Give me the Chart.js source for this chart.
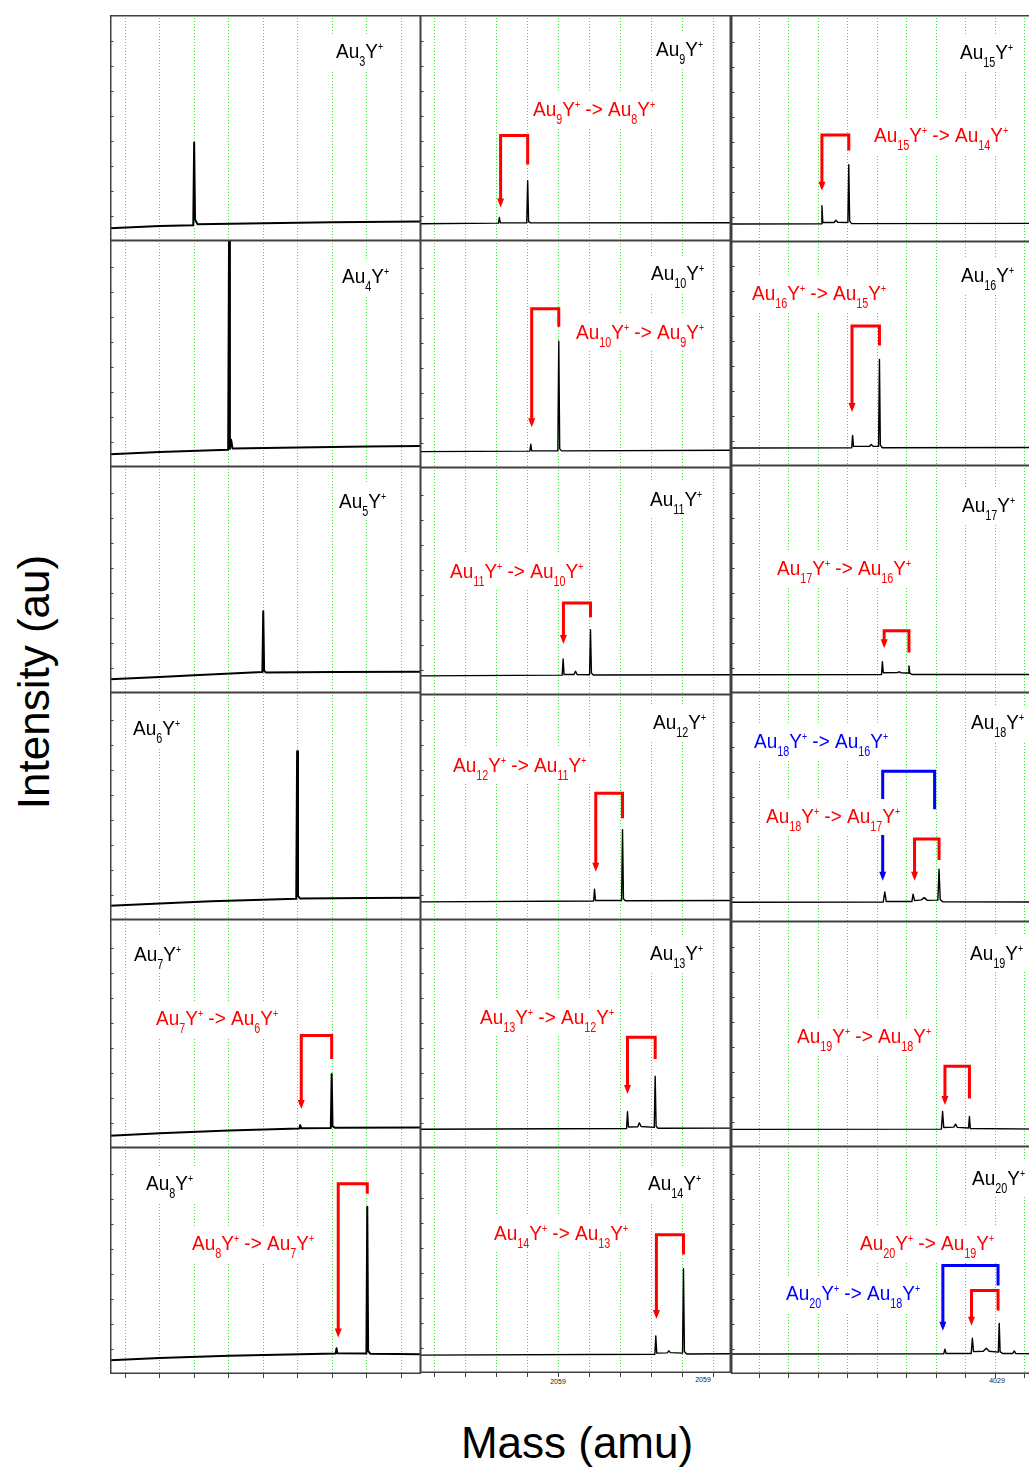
<!DOCTYPE html>
<html><head><meta charset="utf-8">
<script src="https://cdn.jsdelivr.net/npm/chart.js@4.4.0/dist/chart.umd.min.js"></script>
<style>
html,body{margin:0;padding:0;background:#fff;}
body{width:1029px;height:1468px;overflow:hidden;position:relative;font-family:"Liberation Sans",Arial,Helvetica,sans-serif;}
canvas{position:absolute;}
.axt{position:absolute;font-size:44px;line-height:44px;white-space:nowrap;color:#000;}
.tl{position:absolute;font-size:7px;line-height:8px;color:#222;transform:translateX(-50%);-webkit-font-smoothing:antialiased;}
</style></head><body>
<div class="axt" style="left:34px;top:682px;transform:translate(-50%,-50%) rotate(-90deg);">Intensity (au)</div>
<div class="axt" style="left:577px;top:1421px;transform:translateX(-50%);">Mass (amu)</div>
<div class="tl" style="left:558px;top:1378px;">2059</div>
<div class="tl" style="left:703px;top:1376px;">2059</div>
<div class="tl" style="left:997px;top:1377px;">4029</div>
<script>
// ---- panel order (column by column) ----
const panelIons = ['Au3','Au4','Au5','Au6','Au7','Au8','Au9','Au10','Au11','Au12','Au13','Au14','Au15','Au16','Au17','Au18','Au19','Au20'];

// ---- spectra: mass (grid divisions) and intensity (% of panel height) ----
const massAu3 = [-0.44, 1.0, 1.975, 2.0, 2.025, 2.1, 4.0, 6.0, 8.57];
const intAu3  = [5.6, 6.6, 7.0, 43.6, 9.5, 7.4, 7.9, 8.3, 8.6];
const massAu4 = [-0.44, 1.0, 2.985, 3.01, 3.035, 3.07, 3.11, 5.0, 7.0, 8.57];
const intAu4  = [5.6, 6.6, 7.6, 102, 8.0, 12.0, 8.2, 8.6, 9.0, 9.2];
const massAu5 = [-0.44, 1.0, 2.0, 3.975, 4.0, 4.025, 4.08, 6.0, 8.57];
const intAu5  = [6.1, 7.0, 7.8, 9.2, 36.0, 9.8, 9.0, 9.3, 9.4];
const massAu6 = [-0.44, 1.0, 2.5, 4.955, 4.98, 5.005, 5.07, 7.0, 8.57];
const intAu6  = [6.2, 7.2, 8.2, 9.3, 74.0, 10.5, 9.4, 9.6, 9.8];
const massAu7 = [-0.44, 1.0, 3.0, 5.045, 5.07, 5.095, 5.955, 5.98, 6.005, 6.08, 8.57];
const intAu7  = [5.3, 6.4, 7.6, 8.5, 10.0, 8.6, 8.7, 32.3, 9.5, 8.8, 8.9];
const massAu8 = [-0.44, 1.0, 3.0, 6.095, 6.12, 6.145, 6.985, 7.01, 7.035, 7.10, 8.57];
const intAu8  = [6.0, 7.0, 8.0, 9.0, 11.3, 9.1, 9.0, 73.7, 10.2, 8.9, 8.7];
const massAu9 = [-0.46, 2.07, 2.10, 2.13, 2.98, 3.01, 3.04, 3.10, 9.55];
const intAu9  = [7.6, 7.9, 10.4, 8.0, 8.0, 26.7, 8.6, 8.0, 8.1];
const massAu10 = [-0.46, 3.08, 3.11, 3.14, 3.98, 4.01, 4.04, 4.10, 9.55];
const intAu10  = [7.2, 7.4, 10.4, 7.5, 7.5, 55.6, 8.4, 7.5, 7.8];
const massAu11 = [-0.46, 4.12, 4.15, 4.18, 4.50, 4.55, 4.60, 5.00, 5.03, 5.06, 5.12, 9.55];
const intAu11  = [8.4, 8.7, 15.8, 9.0, 9.0, 10.4, 9.0, 8.9, 28.6, 9.6, 8.8, 8.9];
const massAu12 = [-0.46, 5.13, 5.16, 5.19, 6.03, 6.06, 6.09, 6.15, 9.55];
const intAu12  = [8.0, 8.4, 13.6, 8.6, 8.6, 40.0, 9.4, 8.5, 8.6];
const massAu13 = [-0.46, 6.19, 6.22, 6.25, 6.55, 6.60, 6.66, 7.08, 7.11, 7.14, 7.20, 9.55];
const intAu13  = [8.2, 8.5, 15.8, 9.2, 9.3, 11.0, 9.4, 9.0, 31.3, 9.5, 8.6, 8.7];
const massAu14 = [-0.46, 7.10, 7.13, 7.16, 7.50, 7.55, 7.60, 7.99, 8.02, 8.05, 8.12, 9.55];
const intAu14  = [7.9, 8.3, 16.4, 8.8, 8.9, 9.8, 9.0, 8.8, 46.1, 9.5, 8.4, 8.5];
const massAu15 = [-0.96, 2.10, 2.13, 2.16, 2.55, 2.60, 2.66, 3.01, 3.04, 3.07, 3.14, 9.60];
const intAu15  = [7.9, 8.0, 16.0, 8.6, 8.6, 9.6, 8.7, 8.6, 34.1, 9.2, 8.1, 8.2];
const massAu16 = [-0.96, 3.14, 3.17, 3.20, 3.75, 3.80, 3.86, 4.05, 4.08, 4.11, 4.18, 9.60];
const intAu16  = [8.0, 8.1, 13.6, 8.7, 8.8, 9.6, 8.8, 8.7, 47.4, 9.3, 8.1, 8.2];
const massAu17 = [-0.96, 4.15, 4.18, 4.21, 4.70, 4.75, 4.80, 5.05, 5.08, 5.11, 5.20, 9.60];
const intAu17  = [8.0, 8.1, 13.7, 8.9, 9.0, 9.3, 8.9, 8.8, 11.9, 8.6, 8.1, 8.1];
const massAu18 = [-0.96, 4.21, 4.26, 4.31, 5.18, 5.22, 5.27, 5.50, 5.60, 5.70, 6.06, 6.10, 6.14, 6.22, 9.60];
const intAu18  = [8.6, 8.7, 13.1, 8.9, 8.9, 12.1, 9.3, 9.6, 10.6, 9.4, 9.5, 23.0, 9.8, 8.8, 8.7];
const massAu19 = [-0.96, 6.18, 6.22, 6.26, 6.60, 6.66, 6.72, 7.10, 7.13, 7.16, 9.60];
const intAu19  = [7.8, 7.9, 15.7, 8.6, 8.8, 10.1, 8.7, 8.4, 13.5, 8.2, 7.9];
const massAu20 = [-0.96, 6.26, 6.30, 6.34, 7.19, 7.23, 7.27, 7.60, 7.70, 7.80, 8.11, 8.14, 8.17, 8.25, 8.60, 8.65, 8.70, 9.60];
const intAu20  = [8.8, 8.9, 10.9, 9.0, 9.0, 15.7, 9.8, 10.0, 11.3, 10.0, 9.6, 22.2, 9.8, 9.0, 9.0, 10.1, 9.0, 8.9];

// ---- fragmentation brackets: [parent mass, daughter mass, start int., bar int., arrow end int.] ----
const bracketAu7  = [5.98, 5.10, 38.9, 49.1, 18.8];
const bracketAu8  = [7.01, 6.17, 79.4, 83.8, 17.8];
const bracketAu9  = [3.01, 2.14, 33.8, 46.7, 16.6];
const bracketAu10 = [4.01, 3.14, 61.9, 69.9, 19.6];
const bracketAu11 = [5.03, 4.16, 34.1, 40.4, 24.1];
const bracketAu12 = [6.06, 5.20, 45.0, 56.1, 23.1];
const bracketAu13 = [7.11, 6.22, 38.9, 48.4, 25.3];
const bracketAu14 = [8.02, 7.15, 52.4, 61.2, 25.7];
const bracketAu15 = [3.04, 2.13, 40.3, 47.1, 24.3];
const bracketAu16 = [4.08, 3.15, 53.6, 62.2, 25.8];
const bracketAu17 = [5.08, 4.24, 17.8, 27.3, 21.4];
const bracketAu18 = [6.10, 5.27, 27.0, 36.1, 19.7];
const bracket2Au18 = [5.95, 4.19, 49.0, 65.5, 19.7];
const bracketAu19 = [7.13, 6.30, 21.5, 35.7, 20.3];
const bracketAu20 = [8.10, 7.20, 27.8, 36.6, 22.9];
const bracket2Au20 = [8.10, 6.23, 38.8, 47.6, 20.7];

// ---- layout (pixels / styles) ----
const colLeft = [110, 420, 731];
const colWidth = 310;
const rowTops = [[15,240,466,692,919,1147],[15,240,467,694,919,1147],[15,241,465,692,921,1146]];
const colBottom = [1373, 1372, 1373];
const xRanges = [[-0.435, 8.565], [-0.452, 9.548], [-0.952, 9.59]];
const gridMarks = [[0,1,2,3,4,5,6,7,8],[0,1,2,3,4,5,6,7,8,9],[0,1,2,3,4,5,6,7,8,9]];
const RED = '#ff0000', BLUE = '#0000ff', BLACK = '#000000';

const spectra = {Au3:[massAu3,intAu3],Au4:[massAu4,intAu4],Au5:[massAu5,intAu5],Au6:[massAu6,intAu6],Au7:[massAu7,intAu7],Au8:[massAu8,intAu8],
  Au9:[massAu9,intAu9],Au10:[massAu10,intAu10],Au11:[massAu11,intAu11],Au12:[massAu12,intAu12],Au13:[massAu13,intAu13],Au14:[massAu14,intAu14],
  Au15:[massAu15,intAu15],Au16:[massAu16,intAu16],Au17:[massAu17,intAu17],Au18:[massAu18,intAu18],Au19:[massAu19,intAu19],Au20:[massAu20,intAu20]};
const brackets = {Au7:[[bracketAu7,RED]],Au8:[[bracketAu8,RED]],Au9:[[bracketAu9,RED]],Au10:[[bracketAu10,RED]],Au11:[[bracketAu11,RED]],
  Au12:[[bracketAu12,RED]],Au13:[[bracketAu13,RED]],Au14:[[bracketAu14,RED]],Au15:[[bracketAu15,RED]],Au16:[[bracketAu16,RED]],
  Au17:[[bracketAu17,RED]],Au18:[[bracketAu18,RED],[bracket2Au18,BLUE]],Au19:[[bracketAu19,RED]],Au20:[[bracketAu20,RED],[bracket2Au20,BLUE]]};

// label: [text, page x, page baseline y, colour]
const labels = {
  Au3:[['Au_{3}Y^{+}',336,58,BLACK]],
  Au4:[['Au_{4}Y^{+}',342,283,BLACK]],
  Au5:[['Au_{5}Y^{+}',339,508,BLACK]],
  Au6:[['Au_{6}Y^{+}',133,735,BLACK]],
  Au7:[['Au_{7}Y^{+}',134,961,BLACK],['Au_{7}Y^{+} -> Au_{6}Y^{+}',156,1025,RED]],
  Au8:[['Au_{8}Y^{+}',146,1190,BLACK],['Au_{8}Y^{+} -> Au_{7}Y^{+}',192,1250,RED]],
  Au9:[['Au_{9}Y^{+}',656,56,BLACK],['Au_{9}Y^{+} -> Au_{8}Y^{+}',533,116,RED]],
  Au10:[['Au_{10}Y^{+}',651,280,BLACK],['Au_{10}Y^{+} -> Au_{9}Y^{+}',576,339,RED]],
  Au11:[['Au_{11}Y^{+}',650,506,BLACK],['Au_{11}Y^{+} -> Au_{10}Y^{+}',450,578,RED]],
  Au12:[['Au_{12}Y^{+}',653,729,BLACK],['Au_{12}Y^{+} -> Au_{11}Y^{+}',453,772,RED]],
  Au13:[['Au_{13}Y^{+}',650,960,BLACK],['Au_{13}Y^{+} -> Au_{12}Y^{+}',480,1024,RED]],
  Au14:[['Au_{14}Y^{+}',648,1190,BLACK],['Au_{14}Y^{+} -> Au_{13}Y^{+}',494,1240,RED]],
  Au15:[['Au_{15}Y^{+}',960,59,BLACK],['Au_{15}Y^{+} -> Au_{14}Y^{+}',874,142,RED]],
  Au16:[['Au_{16}Y^{+}',961,282,BLACK],['Au_{16}Y^{+} -> Au_{15}Y^{+}',752,300,RED]],
  Au17:[['Au_{17}Y^{+}',962,512,BLACK],['Au_{17}Y^{+} -> Au_{16}Y^{+}',777,575,RED]],
  Au18:[['Au_{18}Y^{+}',971,729,BLACK],['Au_{18}Y^{+} -> Au_{16}Y^{+}',754,748,BLUE],['Au_{18}Y^{+} -> Au_{17}Y^{+}',766,823,RED]],
  Au19:[['Au_{19}Y^{+}',970,960,BLACK],['Au_{19}Y^{+} -> Au_{18}Y^{+}',797,1043,RED]],
  Au20:[['Au_{20}Y^{+}',972,1185,BLACK],['Au_{20}Y^{+} -> Au_{19}Y^{+}',860,1250,RED],['Au_{20}Y^{+} -> Au_{18}Y^{+}',786,1300,BLUE]]
};

const FONT = '"Liberation Sans", Arial, Helvetica, sans-serif';
const STYLES = {
  n:{size:20, sx:0.95, dy:0},
  s:{size:15, sx:0.72, dy:8},
  p:{size:11, sx:0.8, dy:-8.5}
};
function parseRich(str){
  const out=[]; const re=/(_\{[^}]*\}|\^\{[^}]*\}|[^_^]+)/g; let m;
  while((m=re.exec(str))){
    const t=m[0];
    if(t[0]==='_') out.push(['s',t.slice(2,-1)]);
    else if(t[0]==='^') out.push(['p',t.slice(2,-1)]);
    else out.push(['n',t]);
  }
  return out;
}
function drawRich(ctx, str, x, y, color){
  const parts=parseRich(str);
  ctx.save();
  let w=0; const widths=[];
  for(const [k,t] of parts){ const st=STYLES[k]; ctx.font=st.size+'px '+FONT; const ww=ctx.measureText(t).width*st.sx; widths.push(ww); w+=ww; }
  ctx.fillStyle='#ffffff';
  ctx.fillRect(x-4, y-24, w+8, 36);
  ctx.fillStyle=color; ctx.textBaseline='alphabetic'; ctx.textAlign='left';
  let cx=x;
  parts.forEach(([k,t],i)=>{
    const st=STYLES[k];
    ctx.save(); ctx.font=st.size+'px '+FONT; ctx.translate(cx, y+st.dy); ctx.scale(st.sx,1); ctx.fillText(t,0,0); ctx.restore();
    cx+=widths[i];
  });
  ctx.restore();
}

function makePanel(i){
  const ion=panelIons[i]; const col=Math.floor(i/6), row=i%6;
  const top=rowTops[col][row];
  const bottom= row<5 ? rowTops[col][row+1] : colBottom[col];
  const isBottom = row===5;
  const tickLen = isBottom ? 4 : 0;
  const W=colWidth+1, H=(bottom-top)+1+tickLen;
  const canvas=document.createElement('canvas');
  canvas.width=W; canvas.height=H;
  canvas.style.left=colLeft[col]+'px'; canvas.style.top=top+'px';
  canvas.style.width=W+'px'; canvas.style.height=H+'px';
  document.body.appendChild(canvas);

  const [mx, iy]=spectra[ion];
  const datasets=[];
  const brs=brackets[ion]||[];
  brs.forEach(([b,color])=>{
    datasets.push({label:'fragment', data:[{x:b[0],y:b[2]},{x:b[0],y:b[3]},{x:b[1],y:b[3]},{x:b[1],y:b[4]}],
      borderColor:color, backgroundColor:color, borderWidth:3, pointRadius:0, tension:0, fill:false,
      borderJoinStyle:'miter', borderCapStyle:'butt', arrow:true});
  });
  datasets.push({label:ion+'Y+', data:mx.map((x,k)=>({x:x,y:iy[k]})), borderColor:'#000', borderWidth: col===0?2:1.4,
    pointRadius:0, tension:0, fill:false, borderJoinStyle:'round'});

  const ticksMarks=gridMarks[col];
  const decor={
    id:'decor'+i,
    afterDatasetsDraw(chart){
      const ctx=chart.ctx;
      chart.data.datasets.forEach((ds,k)=>{
        if(!ds.arrow) return;
        const meta=chart.getDatasetMeta(k); const p=meta.data[meta.data.length-1];
        ctx.save(); ctx.fillStyle=ds.borderColor; ctx.beginPath();
        ctx.moveTo(p.x-3.5,p.y-5); ctx.lineTo(p.x+3.5,p.y-5); ctx.lineTo(p.x,p.y+4); ctx.closePath(); ctx.fill(); ctx.restore();
      });
    },
    afterDraw(chart){
      const ctx=chart.ctx; const a=chart.chartArea;
      const ox=colLeft[col], oy=top;
      (labels[ion]||[]).forEach(([t,x,y,c])=>drawRich(ctx,t,x-ox,y-oy,c));
      // frame
      ctx.save(); ctx.strokeStyle='#404040'; ctx.lineWidth=1.5;
      ctx.strokeRect(a.left+0.75,a.top+0.75,a.right-a.left-1.5,a.bottom-a.top-1.5);
      // inward y ticks every 25 px
      const ys=chart.scales.y; const h=a.bottom-a.top;
      ctx.lineWidth=1; ctx.beginPath();
      for(let k=1;k<=8;k++){ const py=Math.round(ys.getPixelForValue(k*2500/h))+0.5; ctx.moveTo(a.left,py); ctx.lineTo(a.left+3.5,py); }
      ctx.stroke(); ctx.restore();
    }
  };

  new Chart(canvas,{
    type:'line',
    data:{datasets},
    options:{
      responsive:false, animation:false, devicePixelRatio:1, events:[],
      layout:{padding:0},
      plugins:{legend:{display:false}, tooltip:{enabled:false}},
      scales:{
        x:{type:'linear', min:xRanges[col][0], max:xRanges[col][1],
           afterBuildTicks:(s)=>{ s.ticks=ticksMarks.map(v=>({value:v})); },
           ticks:{display:false},
           grid:{color:'#2ef02e', lineWidth:1, drawTicks:isBottom, tickLength:tickLen||1, tickColor:'#404040', tickWidth:1, tickBorderDash:[]},
           border:{display:false, dash:[1,2]}},
        y:{display:false, min:0, max:100}
      }
    },
    plugins:[decor]
  });
}
for(let i=0;i<panelIons.length;i++) makePanel(i);
</script>
</body></html>
